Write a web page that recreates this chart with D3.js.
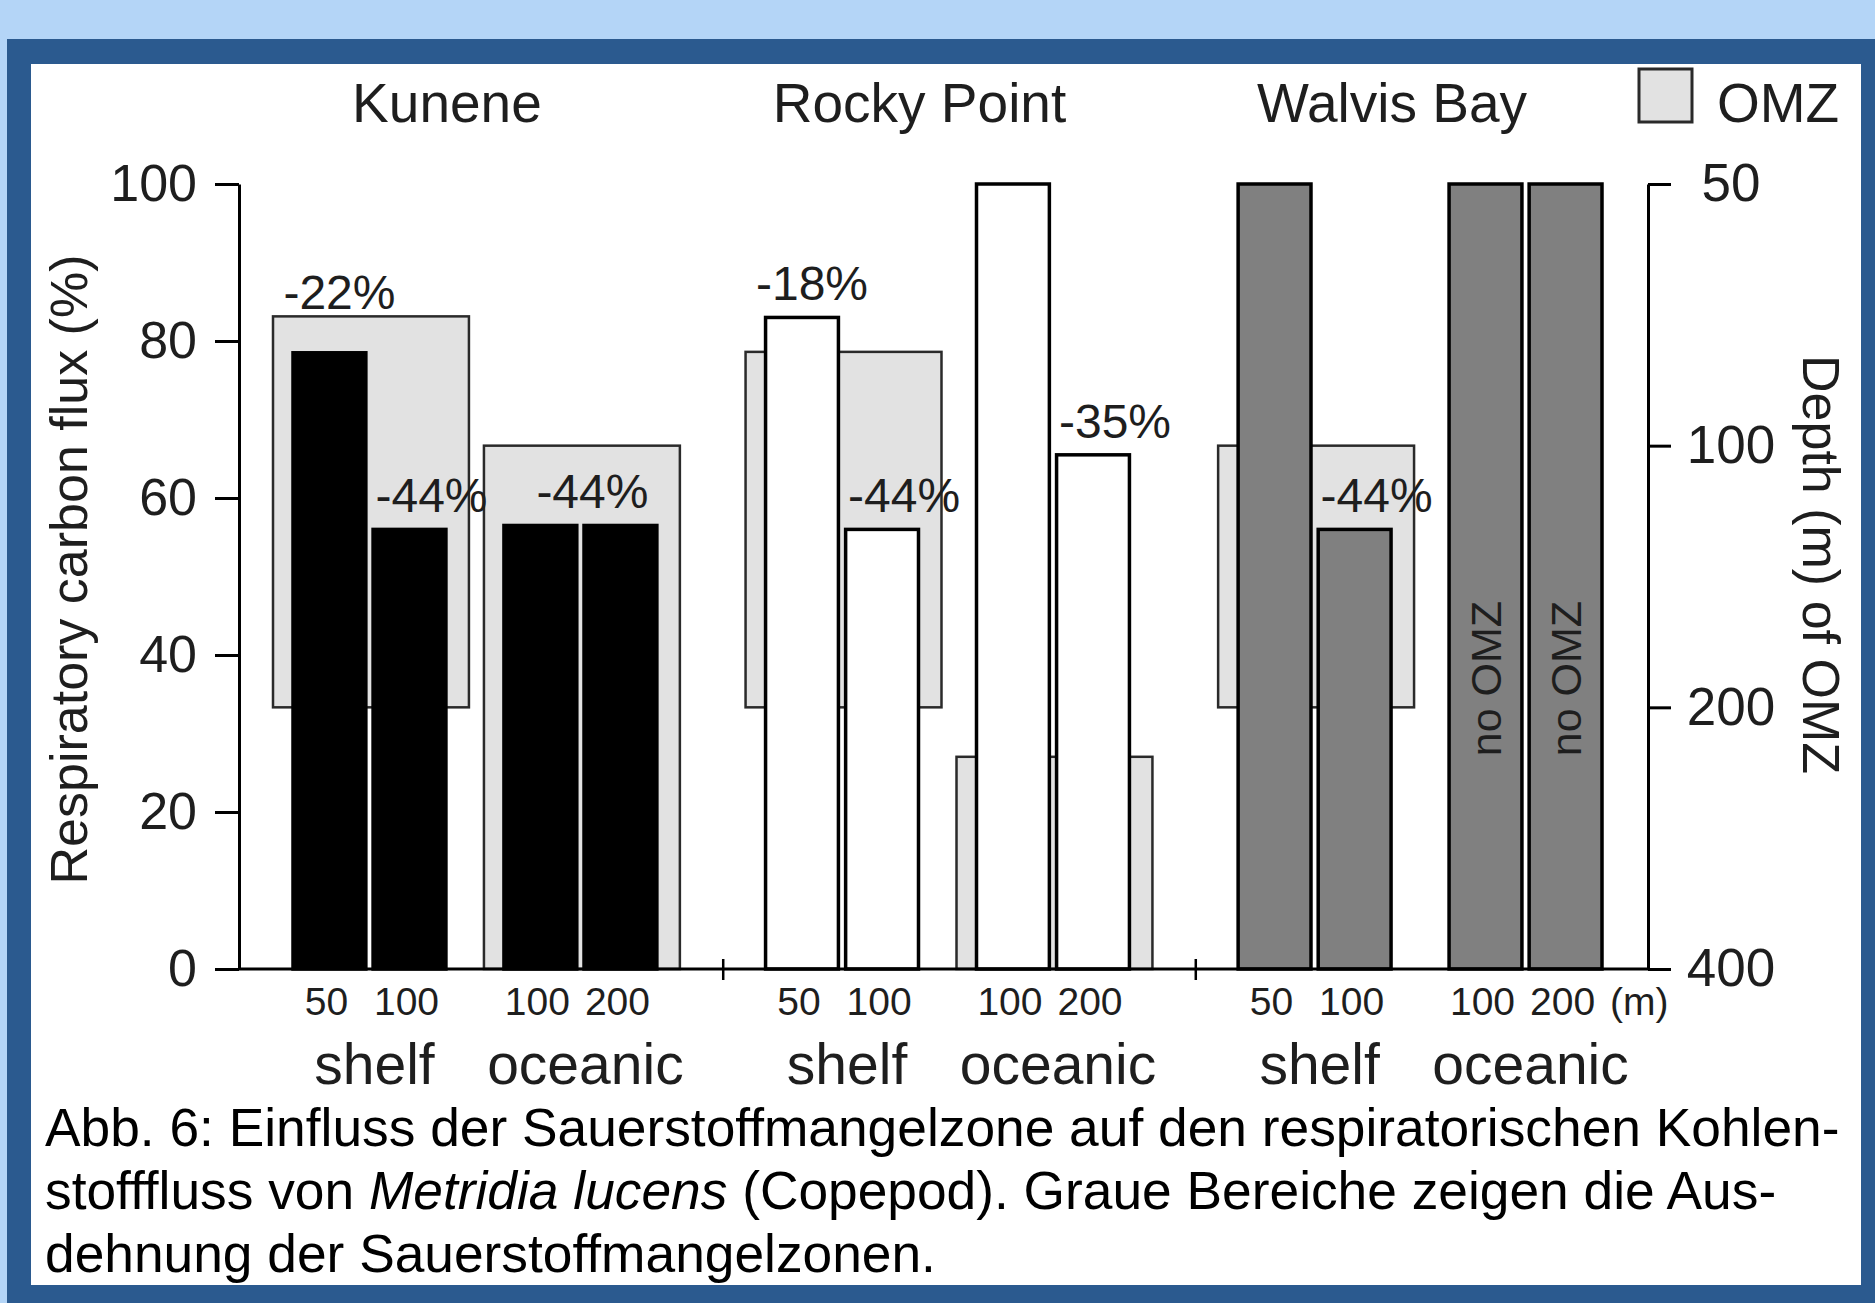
<!DOCTYPE html>
<html>
<head>
<meta charset="utf-8">
<script src="https://cdn.jsdelivr.net/npm/d3@7"></script>
<style>
  body { margin: 0; background: #fff; }
  svg text { font-family: "Liberation Sans", Arial, Helvetica, sans-serif; fill: #1e1e1e; }
</style>
</head>
<body>
<svg class="omz_flux" width="1875" height="1303"></svg>
<script>
// data
var sites = ["Kunene", "Rocky Point", "Walvis Bay"];
var zones = ["shelf", "oceanic"];
var shelfDepths = [50, 100];
var oceanicDepths = [100, 200];

// respiratory carbon flux (%) : shelf 50, shelf 100, oceanic 100, oceanic 200
var fluxKunene = [78.5, 56, 56.5, 56.5];
var fluxRocky = [83, 56, 100, 65.5];
var fluxWalvis = [100, 56, 100, 100];

// OMZ depth range (m) per zone : [shelf, oceanic]
var omzKunene = [[71, 200], [100, 400]];
var omzRocky = [[78, 200], [228, 400]];
var omzWalvis = [[100, 200], null];

// site, zone, bar index (-1 = whole zone), text, anchored on
var percentLabels = [
  ["Kunene", "shelf", 0, "-22%", "omz"],
  ["Kunene", "shelf", 1, "-44%", "bar"],
  ["Kunene", "oceanic", -1, "-44%", "bar"],
  ["Rocky Point", "shelf", 0, "-18%", "bar"],
  ["Rocky Point", "shelf", 1, "-44%", "bar"],
  ["Rocky Point", "oceanic", 1, "-35%", "bar"],
  ["Walvis Bay", "shelf", 1, "-44%", "bar"]
];
var noOmzText = "no OMZ";

var fluxTicks = [0, 20, 40, 60, 80, 100];
var depthTicks = [50, 100, 200, 400];

var captionLine1 = "Abb. 6: Einfluss der Sauerstoffmangelzone auf den respiratorischen Kohlen-";
var captionLine2a = "stofffluss von ";
var captionLine2b = "Metridia lucens";
var captionLine2c = " (Copepod). Graue Bereiche zeigen die Aus-";
var captionLine3 = "dehnung der Sauerstoffmangelzonen.";

var fluxBySite = {"Kunene": fluxKunene, "Rocky Point": fluxRocky, "Walvis Bay": fluxWalvis};
var omzBySite = {"Kunene": omzKunene, "Rocky Point": omzRocky, "Walvis Bay": omzWalvis};
var depthsByZone = {shelf: shelfDepths, oceanic: oceanicDepths};

var bars = [];
sites.forEach(function (site) {
  zones.forEach(function (zone, j) {
    depthsByZone[zone].forEach(function (depth, k) {
      bars.push({site: site, zone: zone, k: k, depth: depth, value: fluxBySite[site][j * 2 + k]});
    });
  });
});

var omzBoxes = [];
sites.forEach(function (site) {
  zones.forEach(function (zone, j) {
    var r = omzBySite[site][j];
    if (r) omzBoxes.push({site: site, zone: zone, top: r[0], bottom: r[1]});
  });
});

var svg = d3.select("svg.omz_flux");

// frame
svg.append("rect").attr("width", 1875).attr("height", 1303).attr("fill", "#b4d5f7");
svg.append("rect").attr("x", 7).attr("y", 39).attr("width", 1868).attr("height", 1264).attr("fill", "#2b5a8f");
svg.append("rect").attr("x", 31).attr("y", 64).attr("width", 1830).attr("height", 1221).attr("fill", "#fff");

var siteFill = d3.scaleOrdinal().domain(sites).range(["#000", "#fff", "#808080"]);

var xSite = d3.scaleBand().domain(sites).range([293, 1602]).paddingInner(0.23);
var xZone = d3.scaleBand().domain(zones).range([0, xSite.bandwidth()]).paddingInner(0.275);
var xBar = d3.scaleBand().domain([0, 1]).range([0, xZone.bandwidth()]).paddingInner(0.09);
var y = d3.scaleLinear().domain([0, 100]).range([969, 184]);
var yDepth = d3.scaleLog().domain([50, 400]).range([184, 969]);

var barX = function (d) { return xSite(d.site) + xZone(d.zone) + xBar(d.k); };
var zoneX = function (site, zone) { return xSite(site) + xZone(zone); };

// OMZ boxes
svg.append("g").selectAll("rect")
  .data(omzBoxes)
  .enter().append("rect")
    .attr("x", function (d) { return zoneX(d.site, d.zone) - 20; })
    .attr("width", xZone.bandwidth() + 43)
    .attr("y", function (d) { return yDepth(d.top); })
    .attr("height", function (d) { return yDepth(d.bottom) - yDepth(d.top); })
    .attr("fill", "#e2e2e2")
    .attr("stroke", "#2a2a2a")
    .attr("stroke-width", 2.5);

// bars
svg.append("g").selectAll("rect")
  .data(bars)
  .enter().append("rect")
    .attr("x", barX)
    .attr("width", xBar.bandwidth())
    .attr("y", function (d) { return y(d.value); })
    .attr("height", function (d) { return y(0) - y(d.value); })
    .attr("fill", function (d) { return siteFill(d.site); })
    .attr("stroke", "#000")
    .attr("stroke-width", 3.5);

// "no OMZ" inside bars without OMZ
svg.append("g").selectAll("text")
  .data(bars.filter(function (d) {
    return !omzBySite[d.site][zones.indexOf(d.zone)];
  }))
  .enter().append("text")
    .attr("transform", function (d) {
      return "translate(" + (barX(d) + xBar.bandwidth() / 2) + "," + y(37) + ") rotate(-90)";
    })
    .attr("text-anchor", "middle")
    .attr("dy", "0.35em")
    .style("font-size", "43px")
    .text(noOmzText);

// percent labels
svg.append("g").selectAll("text")
  .data(percentLabels)
  .enter().append("text")
    .attr("x", function (d) {
      var x0 = zoneX(d[0], d[1]);
      if (d[2] < 0) return x0 + xZone.bandwidth() / 2 + 12;
      return x0 + xBar(d[2]) + xBar.bandwidth() / 2 + (d[2] === 0 ? 10 : 22);
    })
    .attr("y", function (d) {
      if (d[4] === "omz") return yDepth(omzBySite[d[0]][zones.indexOf(d[1])][0]) - 7;
      var b = bars.filter(function (e) {
        return e.site === d[0] && e.zone === d[1] && (d[2] < 0 || e.k === d[2]);
      });
      return y(d3.max(b, function (e) { return e.value; })) - 17;
    })
    .attr("text-anchor", "middle")
    .style("font-size", "48px")
    .text(function (d) { return d[3]; });

// left axis
var axisL = svg.append("g")
    .attr("transform", "translate(239,0)")
    .call(d3.axisLeft(y).tickValues(fluxTicks).tickSize(24).tickSizeOuter(0).tickPadding(18));
axisL.select(".domain").attr("stroke-width", 3);
axisL.selectAll(".tick line").attr("stroke-width", 3);
axisL.selectAll(".tick text").style("font-size", "52px").attr("fill", "#1e1e1e");

// right axis (depth, log)
var axisR = svg.append("g")
    .attr("transform", "translate(1648,0)")
    .call(d3.axisRight(yDepth).tickValues(depthTicks).tickSize(23).tickSizeOuter(0)
      .tickFormat(d3.format("d")));
axisR.select(".domain").attr("stroke-width", 3);
axisR.selectAll(".tick line").attr("stroke-width", 3);
axisR.selectAll(".tick text")
    .attr("x", 83)
    .attr("text-anchor", "middle")
    .style("font-size", "53px")
    .attr("fill", "#1e1e1e");

// baseline
svg.append("line")
    .attr("x1", 239).attr("x2", 1648)
    .attr("y1", y(0)).attr("y2", y(0))
    .attr("stroke", "#000").attr("stroke-width", 3);

// separators between sites
var sepX = function (s, i) {
  return (xSite(sites[i]) + xSite.bandwidth() + xSite(s)) / 2 + 12;
};
svg.append("g").selectAll("line")
  .data(sites.slice(1))
  .enter().append("line")
    .attr("x1", sepX)
    .attr("x2", sepX)
    .attr("y1", y(0) - 10).attr("y2", y(0) + 11)
    .attr("stroke", "#000").attr("stroke-width", 2.5);

// depth tick labels under bars
svg.append("g").selectAll("text")
  .data(bars)
  .enter().append("text")
    .attr("x", function (d) { return barX(d) + xBar.bandwidth() / 2 - 3; })
    .attr("y", 1015)
    .attr("text-anchor", "middle")
    .style("font-size", "39px")
    .text(function (d) { return d.depth; });

var lastBar = bars[bars.length - 1];
svg.append("text")
    .attr("x", barX(lastBar) + xBar.bandwidth() + 8)
    .attr("y", 1015)
    .style("font-size", "39px")
    .text("(m)");

// zone labels
svg.append("g").selectAll("text")
  .data(d3.cross(sites, zones))
  .enter().append("text")
    .attr("x", function (d) { return zoneX(d[0], d[1]) + xZone.bandwidth() / 2 + 5; })
    .attr("y", 1084)
    .attr("text-anchor", "middle")
    .style("font-size", "57px")
    .text(function (d) { return d[1]; });

// site titles
svg.append("g").selectAll("text")
  .data(sites)
  .enter().append("text")
    .attr("x", function (s) { return xSite(s) + xSite.bandwidth() / 2 - 28; })
    .attr("y", 122)
    .attr("text-anchor", "middle")
    .style("font-size", "55px")
    .text(function (s) { return s; });

// legend
svg.append("rect")
    .attr("x", 1639).attr("y", 69).attr("width", 53).attr("height", 53)
    .attr("fill", "#e2e2e2").attr("stroke", "#2a2a2a").attr("stroke-width", 3);
svg.append("text")
    .attr("x", 1717).attr("y", 122)
    .style("font-size", "55px")
    .text("OMZ");

// axis titles
svg.append("text")
    .attr("transform", "translate(87," + (y(50) - 7) + ") rotate(-90)")
    .attr("text-anchor", "middle")
    .style("font-size", "52px")
    .text("Respiratory carbon flux (%)");

svg.append("text")
    .attr("transform", "translate(1803," + (y(50) - 12) + ") rotate(90)")
    .attr("text-anchor", "middle")
    .style("font-size", "52px")
    .text("Depth (m) of OMZ");

// caption
var cap = svg.append("text")
    .attr("x", 45)
    .style("font-size", "53.3px");
cap.append("tspan").attr("x", 45).attr("y", 1146).style("fill", "#000").text(captionLine1);
var l2 = cap.append("tspan").attr("x", 45).attr("y", 1209).style("fill", "#000");
l2.append("tspan").style("fill", "#000").text(captionLine2a);
l2.append("tspan").style("fill", "#000").style("font-style", "italic").text(captionLine2b);
l2.append("tspan").style("fill", "#000").text(captionLine2c);
cap.append("tspan").attr("x", 45).attr("y", 1272).style("fill", "#000").text(captionLine3);
</script>
</body>
</html>
